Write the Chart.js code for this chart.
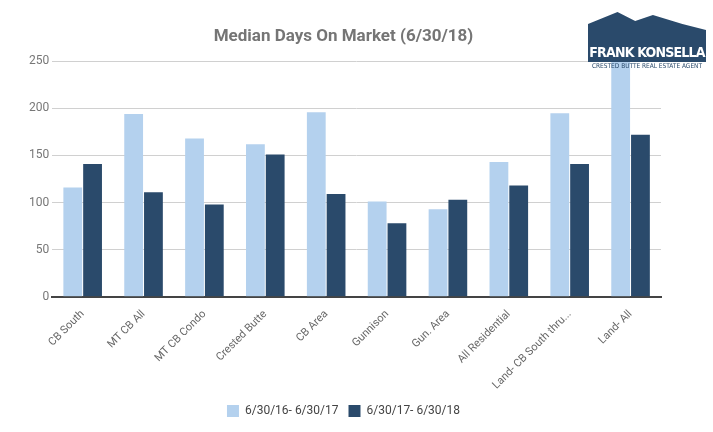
<!DOCTYPE html>
<html><head><meta charset="utf-8">
<script src="https://cdn.jsdelivr.net/npm/chart.js@4/dist/chart.umd.min.js"></script>
<style>body{margin:0;background:#fff;font-family:Roboto,sans-serif}#w{position:relative;width:713px;height:432px}
#logo{position:absolute;left:588px;top:12px;width:118px;text-align:center;white-space:nowrap}
#logo .m{height:30px;background:#2a4a6b;clip-path:polygon(0 100%,0 40%,25% 0,40% 30%,55% 10%,80% 40%,100% 60%,100% 100%)}
#logo .n{background:#2a4a6b;color:#fff;font:bold 14px "DejaVu Sans Condensed",sans-serif;letter-spacing:-0.8px;line-height:20px}
#logo .s{color:#2a4a6b;font:6.5px "DejaVu Sans Condensed",sans-serif;line-height:9px}</style></head>
<body><div id="w"><canvas id="c" width="713" height="432"></canvas>
<div id="logo"><div class="m"></div><div class="n">FRANK KONSELLA</div><div class="s">CRESTED BUTTE REAL ESTATE AGENT</div></div></div>
<script>
const categories=["CB South","MT CB All","MT CB Condo","Crested Butte","CB Area","Gunnison","Gun. Area","All Residential","Land- CB South thru...","Land- All"];
const series1=[116,194,168,162,196,101,93,143,195,250];
const series2=[141,111,98,151,109,78,103,118,141,172];
const ticks=[0,50,100,150,200,250];
new Chart(document.getElementById('c'),{type:'bar',data:{labels:categories,datasets:[
{label:'6/30/16- 6/30/17',data:series1,backgroundColor:'#b4d1ee',categoryPercentage:0.65,barPercentage:0.95},
{label:'6/30/17- 6/30/18',data:series2,backgroundColor:'#2a4a6b',categoryPercentage:0.65,barPercentage:0.95}]},
options:{responsive:false,animation:false,layout:{padding:{left:26,right:52,top:13,bottom:5}},
plugins:{title:{display:true,text:'Median Days On Market (6/30/18)',color:'#757575',font:{family:'Roboto',size:17,weight:'bold'},padding:{top:14,bottom:14}},
legend:{position:'bottom',labels:{boxWidth:12,boxHeight:12,color:'#444',font:{family:'Roboto',size:12},padding:10}}},
scales:{y:{min:0,max:250,afterBuildTicks:a=>{a.ticks=ticks.map(v=>({value:v}))},ticks:{color:'#777',font:{family:'Roboto',size:12}},grid:{color:'#d0d0d0',drawTicks:false},border:{display:false}},
x:{grid:{display:false},border:{color:'#444',width:2},ticks:{color:'#666',font:{family:'Roboto',size:11},maxRotation:45,minRotation:45}}}}});
</script></body></html>
